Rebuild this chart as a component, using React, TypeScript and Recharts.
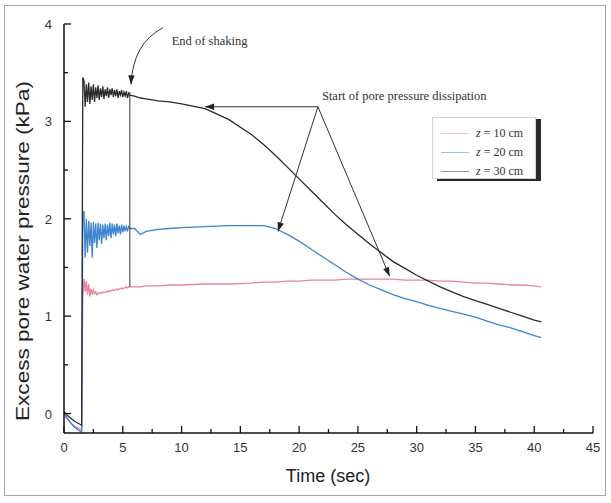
import React from "react";
import { LineChart, Line, XAxis, YAxis, ReferenceLine, Legend } from "recharts";

// time (sec)
const time = [
  0, 0.3, 0.6, 0.9, 1.2, 1.5, 1.6,
  1.7, 1.8, 1.9, 2.0, 2.1, 2.2, 2.3, 2.4, 2.5, 2.6, 2.7, 2.8, 2.9, 3.0,
  3.1, 3.2, 3.3, 3.4, 3.5, 3.6, 3.7, 3.8, 3.9, 4.0, 4.1, 4.2, 4.3, 4.4,
  4.5, 4.6, 4.7, 4.8, 4.9, 5.0, 5.1, 5.2, 5.3, 5.4, 5.5, 5.6,
  6, 6.5, 7, 8, 9, 10, 12, 14, 16, 17, 18, 19, 20, 21, 22, 23, 24, 25,
  26, 27, 28, 29, 30, 31, 32, 33, 34, 35, 36, 37, 38, 39, 40, 40.6,
];

// excess pore water pressure (kPa)
const z30 = [
  0.02, -0.02, -0.05, -0.08, -0.1, -0.12, 3.45,
  3.42, 3.15, 3.38, 3.2, 3.4, 3.18, 3.36, 3.22, 3.38, 3.2, 3.35, 3.24, 3.37, 3.22,
  3.34, 3.25, 3.36, 3.23, 3.33, 3.26, 3.35, 3.24, 3.33, 3.27, 3.34, 3.25, 3.32, 3.26,
  3.33, 3.24, 3.31, 3.27, 3.32, 3.25, 3.3, 3.26, 3.31, 3.24, 3.29, 3.27,
  3.26, 3.24, 3.23, 3.21, 3.2, 3.18, 3.13, 3.02, 2.86, 2.76, 2.65, 2.53, 2.41, 2.29,
  2.17, 2.05, 1.94, 1.84, 1.74, 1.65, 1.56, 1.49, 1.42, 1.36, 1.3, 1.25, 1.2, 1.16,
  1.12, 1.08, 1.04, 1.0, 0.96, 0.94,
];
const z20 = [
  0.0, -0.05, -0.1, -0.14, -0.17, -0.19, 2.05,
  2.08, 1.6, 2.0, 1.65, 1.98, 1.72, 1.96, 1.6, 1.97, 1.75, 1.95, 1.7, 1.96, 1.78,
  1.95, 1.74, 1.94, 1.8, 1.95, 1.78, 1.94, 1.82, 1.96, 1.8, 1.95, 1.84, 1.94, 1.82,
  1.95, 1.85, 1.93, 1.84, 1.94, 1.86, 1.93, 1.87, 1.92, 1.88, 1.92, 1.9,
  1.9, 1.84, 1.87, 1.89, 1.9, 1.91, 1.92, 1.93, 1.93, 1.93, 1.9, 1.84, 1.77, 1.69,
  1.61, 1.53, 1.45, 1.38, 1.32, 1.27, 1.22, 1.18, 1.15, 1.11, 1.08, 1.05, 1.02, 0.99,
  0.95, 0.91, 0.88, 0.84, 0.8, 0.78,
];
const z10 = [
  -0.02, -0.06, -0.1, -0.13, -0.15, -0.17, 1.2,
  1.38, 1.25, 1.36, 1.22, 1.33, 1.2, 1.28, 1.22, 1.27, 1.23, 1.25, 1.22, 1.24, 1.23,
  1.24, 1.24, 1.25, 1.24, 1.25, 1.25, 1.26, 1.25, 1.26, 1.26, 1.27, 1.26, 1.27, 1.27,
  1.28, 1.27, 1.28, 1.28, 1.29, 1.28, 1.29, 1.29, 1.3, 1.29, 1.3, 1.3,
  1.3, 1.3, 1.31, 1.31, 1.32, 1.32, 1.33, 1.33, 1.34, 1.35, 1.35, 1.36, 1.36, 1.37,
  1.37, 1.37, 1.38, 1.38, 1.38, 1.38, 1.38, 1.37, 1.37, 1.37, 1.36, 1.36, 1.35, 1.34,
  1.34, 1.33, 1.32, 1.32, 1.31, 1.3,
];

const xTicks = [0, 2.5, 5, 7.5, 10, 12.5, 15, 17.5, 20, 22.5, 25, 27.5, 30, 32.5, 35, 37.5, 40, 42.5, 45];
const yTicks = [0, 0.5, 1, 1.5, 2, 2.5, 3, 3.5, 4];

const series = [
  { key: "z10", depth: "10 cm", color: "#e8829f" },
  { key: "z20", depth: "20 cm", color: "#3f84cf" },
  { key: "z30", depth: "30 cm", color: "#2b2b2b" },
];

const rows = time.map((t, i) => ({ t, z10: z10[i], z20: z20[i], z30: z30[i] }));

const sans = "'Liberation Sans', Arial, sans-serif";
const serif = "'Liberation Serif', 'Times New Roman', serif";

const XTick = ({ x, y, payload }: any) => {
  const major = payload.value % 5 === 0;
  return (
    <g>
      <line x1={x} x2={x} y1={y} y2={y - (major ? 7 : 4)} stroke="#111" strokeWidth={1.3} />
      {major && (
        <text x={x} y={y + 19} textAnchor="middle" fontSize={13} fontFamily={sans} fill="#333">
          {payload.value}
        </text>
      )}
    </g>
  );
};

const YTick = ({ x, y, payload }: any) => {
  const major = payload.value % 1 === 0;
  return (
    <g>
      <line x1={x} x2={x + (major ? 7 : 4)} y1={y} y2={y} stroke="#111" strokeWidth={1.3} />
      {major && (
        <text x={x - 12} y={y + 5} textAnchor="end" fontSize={13} fontFamily={sans} fill="#333">
          {payload.value}
        </text>
      )}
    </g>
  );
};

function head(x1: number, y1: number, x2: number, y2: number) {
  const a = Math.atan2(y2 - y1, x2 - x1);
  const len = 9;
  const w = 3.2;
  const bx = x2 - len * Math.cos(a);
  const by = y2 - len * Math.sin(a);
  const px = -Math.sin(a) * w;
  const py = Math.cos(a) * w;
  return `${x2},${y2} ${bx + px},${by + py} ${bx - px},${by - py}`;
}

const arrow = (withHead: boolean, note?: string, dx = 0, dy = 0, bend = 0) => (props: any) => {
  const { x1, y1, x2, y2 } = props;
  const cx = (x1 + x2) / 2 + bend;
  const cy = (y1 + y2) / 2 - Math.abs(bend) * 0.9;
  const d = bend ? `M${x1},${y1} Q${cx},${cy} ${x2},${y2}` : `M${x1},${y1} L${x2},${y2}`;
  return (
    <g>
      <path d={d} fill="none" stroke="#333" strokeWidth={1} />
      {withHead && <polygon points={bend ? head(cx, cy, x2, y2) : head(x1, y1, x2, y2)} fill="#222" />}
      {note && (
        <text x={x1 + dx} y={y1 + dy} fontSize={12.5} fontFamily={serif} fill="#333">
          {note}
        </text>
      )}
    </g>
  );
};

const LegendBox = () => (
  <div
    style={{
      width: 104,
      height: 62,
      boxSizing: "border-box",
      border: "1px solid #d4d4d4",
      background: "#fff",
      boxShadow: "5px 2px 0 #2a2a2a",
      padding: "6px 0 0 8px",
      fontFamily: serif,
      fontSize: 12,
      color: "#333",
    }}
  >
    {series.map((s) => (
      <div key={s.key} style={{ display: "flex", alignItems: "center", height: 19 }}>
        <span style={{ width: 28, height: 0, borderTop: `1px solid ${s.color}`, opacity: 0.5, marginRight: 7 }} />
        <span>
          <i>z</i> = {s.depth}
        </span>
      </div>
    ))}
  </div>
);

export default function App() {
  return (
    <div style={{ position: "absolute", left: 0, top: 0, width: 611, height: 503, background: "#fff" }}>
      <div
        style={{
          position: "absolute",
          left: 4,
          top: 5,
          width: 600,
          height: 489,
          border: "1px solid #a8a8a8",
        }}
      />
      <div style={{ position: "absolute", left: 0, top: 0 }}>
        <LineChart width={611} height={503} data={rows} margin={{ top: 24, right: 18, bottom: 0, left: 0 }}>
          <XAxis
            type="number"
            dataKey="t"
            domain={[0, 45]}
            ticks={xTicks}
            interval={0}
            height={70}
            tickSize={0}
            tickMargin={0}
            tickLine={false}
            tick={<XTick />}
            axisLine={{ stroke: "#111", strokeWidth: 1.5 }}
            allowDataOverflow
          />
          <YAxis
            type="number"
            domain={[-0.2, 4]}
            ticks={yTicks}
            interval={0}
            width={64}
            tickSize={0}
            tickMargin={0}
            tickLine={false}
            tick={<YTick />}
            axisLine={{ stroke: "#111", strokeWidth: 1.5 }}
            allowDataOverflow
          />
          <Legend
            layout="vertical"
            align="center"
            verticalAlign="middle"
            content={<LegendBox />}
            wrapperStyle={{ position: "absolute", left: 432, top: 117, width: 104, height: 62 }}
          />
          <Line type="linear" dataKey="z10" stroke="#e8829f" strokeWidth={1.3} dot={false} isAnimationActive={false} />
          <Line type="linear" dataKey="z20" stroke="#3f84cf" strokeWidth={1.3} dot={false} isAnimationActive={false} />
          <Line type="linear" dataKey="z30" stroke="#2b2b2b" strokeWidth={1.3} dot={false} isAnimationActive={false} />

          <ReferenceLine
            segment={[{ x: 5.6, y: 3.3 }, { x: 5.6, y: 1.3 }]}
            shape={arrow(false)}
          />
          <ReferenceLine
            segment={[{ x: 8.4, y: 3.96 }, { x: 5.7, y: 3.38 }]}
            shape={arrow(true, "End of shaking", 9, 17, -14)}
          />
          <ReferenceLine
            segment={[{ x: 21.6, y: 3.15 }, { x: 12.0, y: 3.15 }]}
            shape={arrow(true, "Start of pore pressure dissipation", 4, -7)}
          />
          <ReferenceLine
            segment={[{ x: 21.6, y: 3.15 }, { x: 18.2, y: 1.87 }]}
            shape={arrow(true)}
          />
          <ReferenceLine
            segment={[{ x: 21.6, y: 3.15 }, { x: 27.7, y: 1.41 }]}
            shape={arrow(true)}
          />
        </LineChart>
      </div>
      <div
        style={{
          position: "absolute",
          left: 0,
          top: 466,
          width: 656,
          textAlign: "center",
          fontFamily: sans,
          fontSize: 18,
          color: "#222",
        }}
      >
        Time (sec)
      </div>
      <svg style={{ position: "absolute", left: 0, top: 0 }} width={40} height={503}>
        <text
          x={29}
          y={251}
          transform="rotate(-90 29 251)"
          textAnchor="middle"
          fontFamily={sans}
          fontSize={18}
          fill="#222"
          textLength={340}
          lengthAdjust="spacingAndGlyphs"
        >
          Excess pore water pressure (kPa)
        </text>
      </svg>
    </div>
  );
}
